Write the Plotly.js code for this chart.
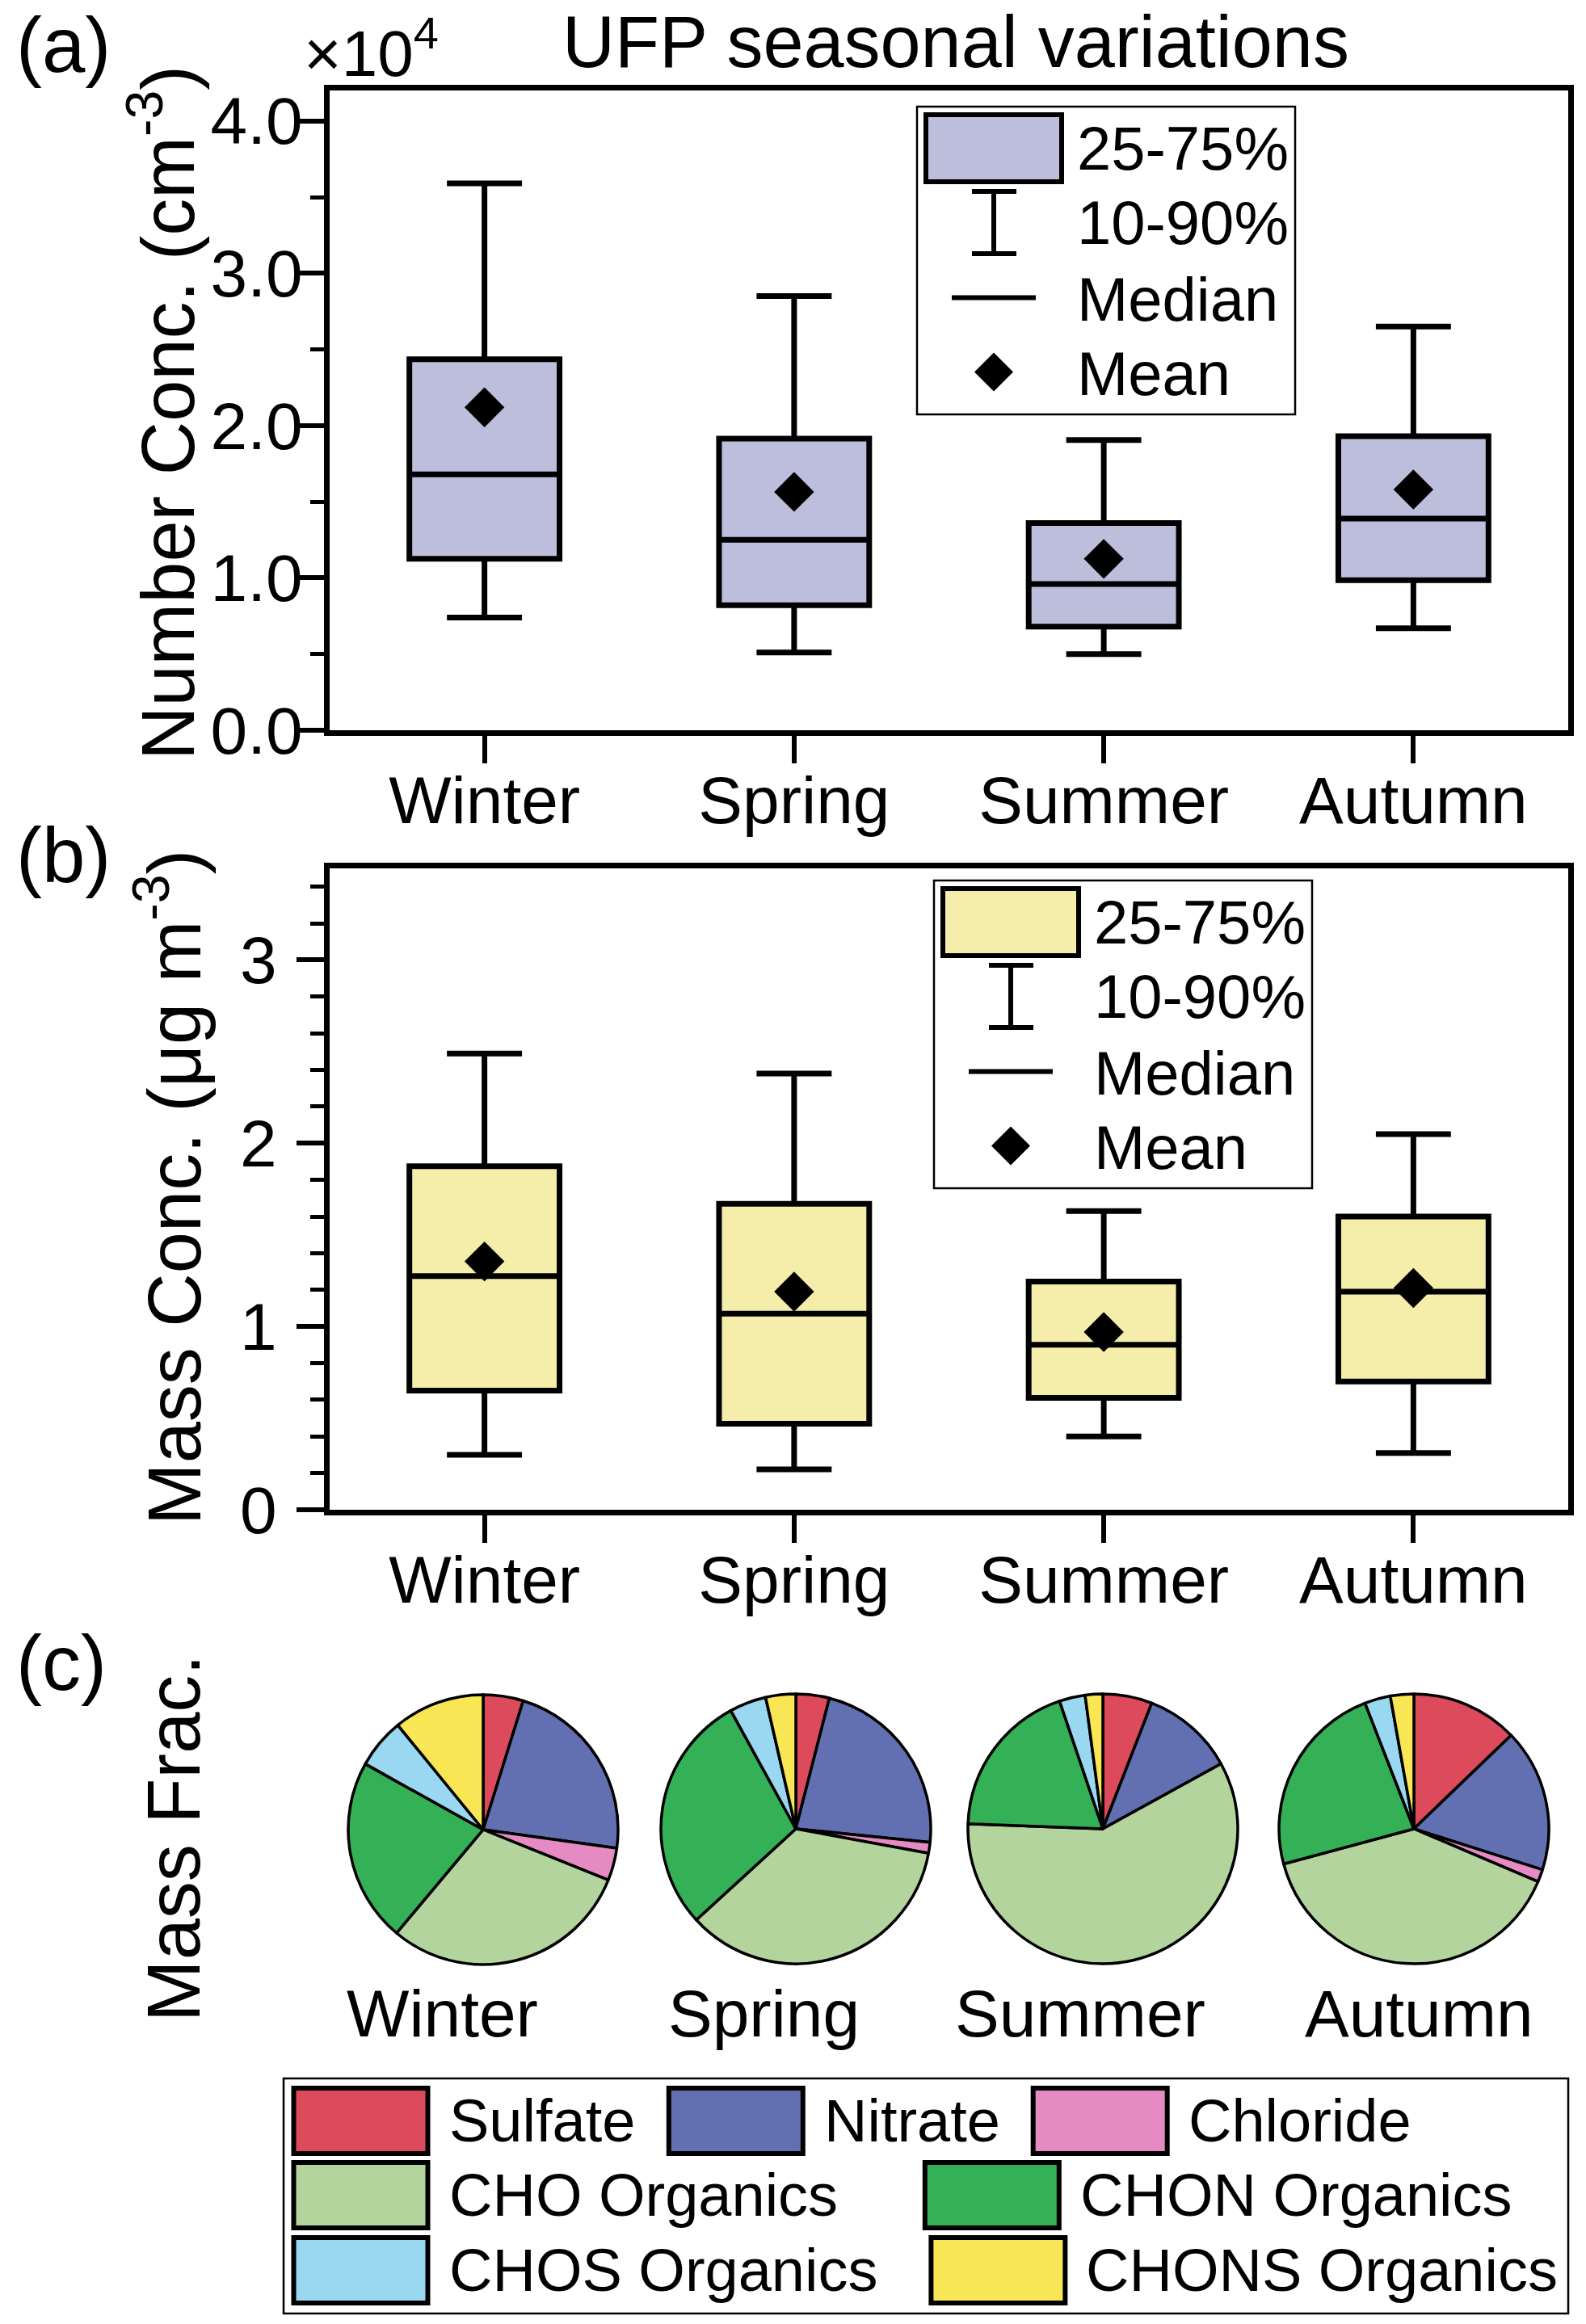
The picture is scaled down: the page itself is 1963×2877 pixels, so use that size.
<!DOCTYPE html>
<html>
<head>
<meta charset="utf-8">
<script src="https://cdn.plot.ly/plotly-3.0.1.min.js"></script>
<style>html,body{margin:0;padding:0;background:#fff;}</style>
</head>
<body>
<div id="chart" style="width:1963px;height:2877px;"></div>
<script>
// ---------------- DATA ----------------
const seasons = ['Winter', 'Spring', 'Summer', 'Autumn'];

// (a) UFP number concentration, x10^4 cm^-3
const numP10    = [0.74, 0.51, 0.50, 0.67];
const numP25    = [1.125, 0.82, 0.68, 0.985];
const numMedian = [1.68, 1.25, 0.96, 1.39];
const numP75    = [2.435, 1.915, 1.36, 1.93];
const numP90    = [3.59, 2.85, 1.905, 2.65];
const numMean   = [2.12, 1.565, 1.125, 1.58];

// (b) UFP mass concentration, ug m^-3
const massP10    = [0.30, 0.22, 0.40, 0.31];
const massP25    = [0.65, 0.47, 0.61, 0.70];
const massMedian = [1.275, 1.07, 0.90, 1.19];
const massP75    = [1.875, 1.67, 1.245, 1.60];
const massP90    = [2.49, 2.38, 1.63, 2.05];
const massMean   = [1.355, 1.19, 0.97, 1.21];

// (c) mass fractions (%)
const components = ['Sulfate', 'Nitrate', 'Chloride', 'CHO Organics', 'CHON Organics', 'CHOS Organics', 'CHONS Organics'];
const fracWinter = [4.8, 22.4, 3.9, 30.0, 22.0, 6.0, 10.9];
const fracSpring = [4.0, 22.6, 1.3, 35.3, 28.8, 4.4, 3.6];
const fracSummer = [5.9, 11.1, 0.0, 58.6, 19.2, 3.1, 2.1];
const fracAutumn = [12.8, 17.1, 1.5, 39.4, 23.3, 3.1, 2.8];
const fracs = [fracWinter, fracSpring, fracSummer, fracAutumn];

const boxLegendLabels = ['25-75%', '10-90%', 'Median', 'Mean'];

// ---------------- STYLE / LAYOUT ----------------
const compColors = ['#DC4A5B', '#6270B2', '#E68AC4', '#B3D49D', '#34B057', '#9AD7F0', '#F8E655'];
const fillA = '#BCBEDC';
const fillB = '#F5EDAA';
const FONT = '"Liberation Sans", Arial, sans-serif';
const W = 1963, H = 2877;
const px = x => x / W;
const py = y => 1 - y / H;

const plotX0 = 408, plotX1 = 1941;
const aY0 = 112, aY1 = 904;
const bY0 = 1075, bY1 = 1869;

const traces = [];
function boxTrace(q1, med, q3, lo, hi, fill, xa, ya) {
  return {
    type: 'box', x: seasons, q1: q1, median: med, q3: q3,
    lowerfence: lo, upperfence: hi,
    boxpoints: false, width: 0.485, whiskerwidth: 0.5,
    fillcolor: fill, line: {color: '#000', width: 7},
    xaxis: xa, yaxis: ya, showlegend: false, hoverinfo: 'skip'
  };
}
function meanTrace(m, xa, ya) {
  return {
    type: 'scatter', mode: 'markers', x: seasons, y: m,
    marker: {symbol: 'diamond', size: 38, color: '#000'},
    xaxis: xa, yaxis: ya, showlegend: false, hoverinfo: 'skip', cliponaxis: false
  };
}
traces.push(boxTrace(numP25, numMedian, numP75, numP10, numP90, fillA, 'x', 'y'));
traces.push(meanTrace(numMean, 'x', 'y'));
traces.push(boxTrace(massP25, massMedian, massP75, massP10, massP90, fillB, 'x2', 'y2'));
traces.push(meanTrace(massMean, 'x2', 'y2'));

const pieCenters = [[598, 2265], [985, 2264], [1365, 2264], [1750, 2264]];
const pieR = 167;
fracs.forEach((f, i) => {
  const c = pieCenters[i];
  traces.push({
    type: 'pie', labels: components, values: f, sort: false,
    direction: 'clockwise', rotation: 0, textinfo: 'none',
    marker: {colors: compColors, line: {color: '#000', width: 3.5}},
    domain: {x: [px(c[0] - pieR), px(c[0] + pieR)], y: [py(c[1] + pieR), py(c[1] - pieR)]},
    showlegend: false, hoverinfo: 'skip'
  });
});

const xaxisBase = {
  type: 'category', range: [-0.5, 3.5], domain: [px(plotX0), px(plotX1)],
  showline: true, linewidth: 7, linecolor: '#000', mirror: true,
  ticks: 'outside', ticklen: 34, tickwidth: 6, tickcolor: '#000', ticklabelstandoff: -24,
  tickfont: {family: FONT, size: 82, color: '#000'}, showgrid: false, zeroline: false,
  fixedrange: true
};
const yaxisBase = {
  showline: true, linewidth: 7, linecolor: '#000', mirror: true,
  ticks: 'outside', ticklen: 34, tickwidth: 6, tickcolor: '#000',
  tickfont: {family: FONT, size: 82, color: '#000'}, showgrid: false, zeroline: false,
  fixedrange: true
};

const shapes = [];
const annotations = [];
function ann(text, x, y, size, opts) {
  annotations.push(Object.assign({
    text: text, x: px(x), y: py(y), xref: 'paper', yref: 'paper',
    showarrow: false, xanchor: 'center', yanchor: 'middle',
    font: {family: FONT, size: size, color: '#000'}
  }, opts || {}));
}
function rect(x0, y0, x1, y1, fill, lw) {
  shapes.push({type: 'rect', xref: 'paper', yref: 'paper',
    x0: px(x0), x1: px(x1), y0: py(y1), y1: py(y0),
    fillcolor: fill, line: {color: '#000', width: lw}});
}
function line(x0, y0, x1, y1, lw) {
  shapes.push({type: 'line', xref: 'paper', yref: 'paper',
    x0: px(x0), x1: px(x1), y0: py(y0), y1: py(y1),
    line: {color: '#000', width: lw}});
}
function diamond(cx, cy, r) {
  const p = `M${px(cx + r)},${py(cy)} L${px(cx)},${py(cy - r)} L${px(cx - r)},${py(cy)} L${px(cx)},${py(cy + r)} Z`;
  shapes.push({type: 'path', xref: 'paper', yref: 'paper', path: p,
    fillcolor: '#000', line: {color: '#000', width: 0}});
}

// box legends
function boxLegend(ox, oy, fill) {
  rect(ox, oy, ox + 468, oy + 381, 'rgba(0,0,0,0)', 2.5);
  rect(ox + 11, oy + 10, ox + 179, oy + 93, fill, 6);
  line(ox + 95, oy + 105, ox + 95, oy + 182, 6);
  line(ox + 68, oy + 105, ox + 123, oy + 105, 6);
  line(ox + 68, oy + 182, ox + 123, oy + 182, 6);
  line(ox + 43, oy + 236.6, ox + 147, oy + 236.6, 6);
  diamond(ox + 95, oy + 328.5, 24);
  const ys = [51, 143.5, 238, 330];
  boxLegendLabels.forEach((t, i) => ann(t, ox + 196, oy + ys[i], 76, {xanchor: 'left'}));
}
boxLegend(1135, 132, fillA);
boxLegend(1156, 1090, fillB);

// pie legend
rect(351, 2573, 1941, 2864, 'rgba(0,0,0,0)', 2.5);
const legPos = [[363.5, 2585], [827.8, 2585], [1278.7, 2585], [363.5, 2677], [1144.8, 2677], [363.5, 2770], [1152.4, 2770]];
components.forEach((c, i) => {
  const p = legPos[i];
  rect(p[0], p[1], p[0] + 166, p[1] + 81, compColors[i], 6);
  ann(c, p[0] + 190, p[1] + 40, 74, {xanchor: 'left'});
});

// pie labels
const pieLabelX = [547, 945, 1337, 1756];
seasons.forEach((s, i) => ann(s, pieLabelX[i], 2492, 82));

// panel labels and axis titles
ann('(a)', 18, 0, 96, {xanchor: 'left', yanchor: 'top'});
ann('(b)', 18, 1058, 96, {xanchor: 'left'});
ann('(c)', 18, 2058, 96, {xanchor: 'left'});
ann('×10<sup>4</sup>', 374, 60, 80, {xanchor: 'left'});
ann('Number Conc. (cm<sup>-3</sup>)', 201, 511, 92, {textangle: -90});
ann('Mass Conc. (μg m<sup>-3</sup>)', 209, 1470, 92, {textangle: -90});
ann('Mass Frac.', 215, 2276, 92, {textangle: -90});

const layout = {
  width: W, height: H,
  margin: {l: 0, r: 0, t: 0, b: 0},
  paper_bgcolor: '#fff', plot_bgcolor: '#fff',
  font: {family: FONT, color: '#000'},
  showlegend: false,
  title: {text: 'UFP seasonal variations', font: {family: FONT, size: 90, color: '#000'},
          x: px(1183), xanchor: 'center', xref: 'paper', y: py(51), yanchor: 'middle', yref: 'paper'},
  xaxis: Object.assign({}, xaxisBase, {anchor: 'y'}),
  yaxis: Object.assign({}, yaxisBase, {anchor: 'x', domain: [py(aY1), py(aY0)], range: [0, 4.2],
    dtick: 1, tick0: 0, tickformat: '.1f', ticklabelstandoff: -24,
    minor: {dtick: 0.5, ticks: 'outside', ticklen: 17, tickwidth: 5, tickcolor: '#000', showgrid: false}}),
  xaxis2: Object.assign({}, xaxisBase, {anchor: 'y2'}),
  yaxis2: Object.assign({}, yaxisBase, {anchor: 'x2', domain: [py(bY1), py(bY0)], range: [0, 3.5],
    dtick: 1, tick0: 0, ticklabelstandoff: 8,
    minor: {dtick: 0.2, ticks: 'outside', ticklen: 17, tickwidth: 5, tickcolor: '#000', showgrid: false}}),
  shapes: shapes,
  annotations: annotations
};

Plotly.newPlot('chart', traces, layout, {staticPlot: true, displayModeBar: false});
</script>
</body>
</html>
